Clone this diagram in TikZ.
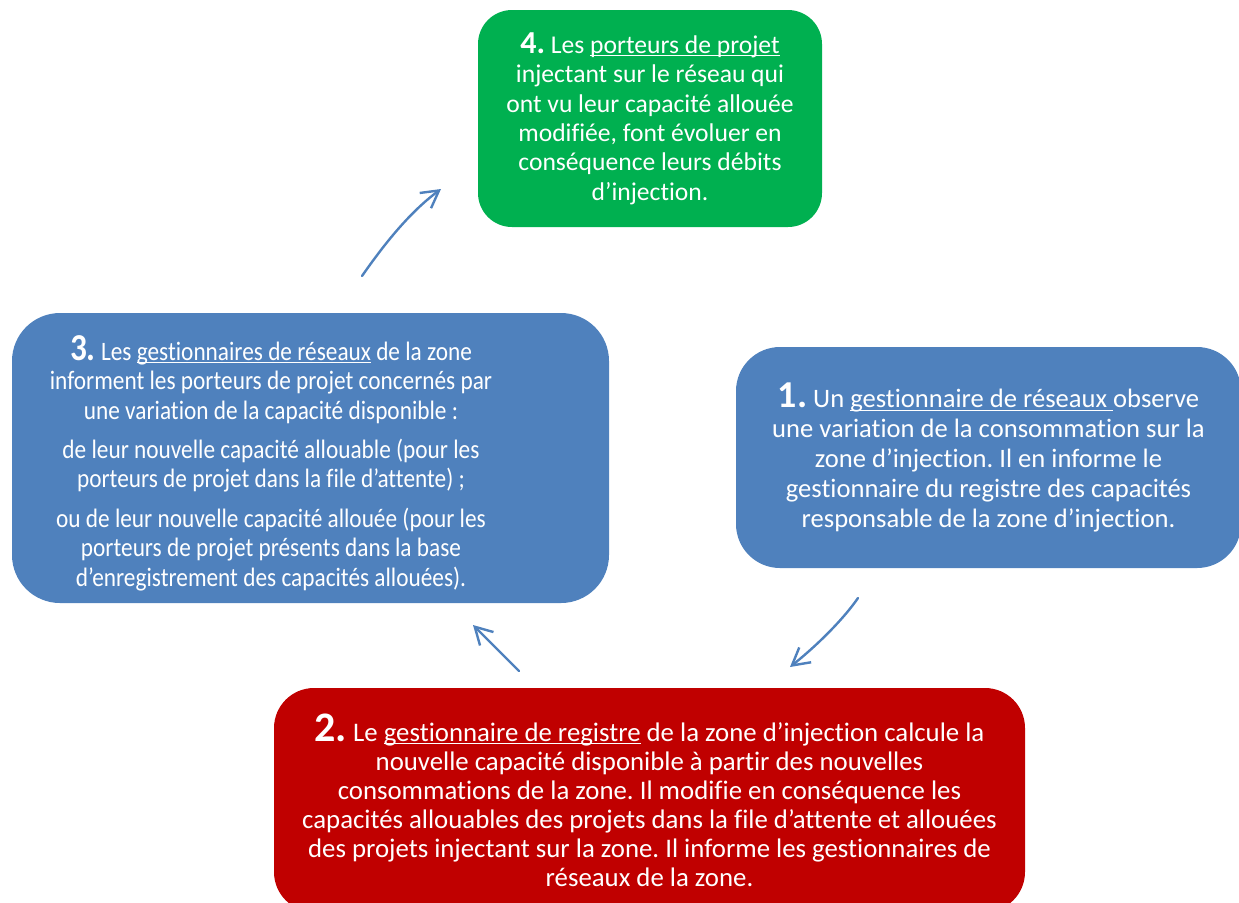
\documentclass[tikz,border=0pt]{standalone}
\usepackage{fontspec}
\setmainfont{Carlito}[Ligatures=CommonOff]
\newfontfamily\narrowfont[FakeStretch=0.876,Ligatures=CommonOff]{Carlito}
\usetikzlibrary{arrows.meta}
\definecolor{bluebox}{HTML}{4F81BD}
\definecolor{redbox}{HTML}{C00000}
\definecolor{greenbox}{HTML}{00B050}
\definecolor{flowline}{HTML}{4F81BD}
\newcommand{\stepnum}[2][16]{{\fontsize{#1}{#1}\selectfont\bfseries #2}}
\newcommand{\ulword}[1]{\setbox0\hbox{#1}\rlap{\rule[-1.6pt]{\wd0}{0.6pt}}\box0\relax}
\frenchspacing
\tikzset{
  card/.style={draw=none, text=white, align=center, inner sep=0pt},
  cardtext/.style={text=white, align=center, inner sep=0pt},
  flow/.style={draw=flowline, line width=1.2pt, line cap=round, line join=round,
    -{Straight Barb[length=8.5pt,width=9.5pt,line width=1.2pt]}},
}

\begin{document}
\begin{tikzpicture}[x=0.5pt,y=-0.5pt]
  \useasboundingbox (0,0) rectangle (1239,902);

  \node[card, fill=greenbox, rounded corners=17pt, minimum width=172pt, minimum height=108.5pt,
    font=\fontsize{12.8}{14.7}\selectfont] (step4) at (650,118.5)
    {\stepnum[16]{4.} Les \ulword{porteurs de projet}\\
     injectant sur le réseau qui\\
     ont vu leur capacité allouée\\
     modifiée, font évoluer en\\
     conséquence leurs débits\\
     d’injection.};

  \node[card, fill=bluebox, rounded corners=24pt, minimum width=298.5pt, minimum height=145pt] (step3) at (310.5,458) {};
  \node[cardtext, font=\narrowfont\fontsize{13.3}{14.7}\selectfont] (txt3) at (271,463)
    {\stepnum[19]{3.} Les \ulword{gestionnaires de réseaux} de la zone\\
     informent les porteurs de projet concernés par\\
     une variation de la capacité disponible :\\[5pt]
     de leur nouvelle capacité allouable (pour les\\
     porteurs de projet dans la file d’attente) ;\\[5pt]
     ou de leur nouvelle capacité allouée (pour les\\
     porteurs de projet présents dans la base\\
     d’enregistrement des capacités allouées).};

  \node[card, fill=bluebox, rounded corners=22pt, minimum width=252.5pt, minimum height=110.5pt,
    font=\fontsize{13.3}{15}\selectfont] (step1) at (988.5,457.5)
    {\stepnum[19]{1.} Un \ulword{gestionnaire de réseaux\ }observe\\
     une variation de la consommation sur la\\
     zone d’injection. Il en informe le\\
     gestionnaire du registre des capacités\\
     responsable de la zone d’injection.};

  \node[card, fill=redbox, rounded corners=20pt, minimum width=375.5pt, minimum height=112pt,
    font=\fontsize{13.4}{14.5}\selectfont] (step2) at (649.5,800)
    {\stepnum[21]{2.} Le \ulword{gestionnaire de registre} de la zone d’injection calcule la\\
     nouvelle capacité disponible à partir des nouvelles\\
     consommations de la zone. Il modifie en conséquence les\\
     capacités allouables des projets dans la file d’attente et allouées\\
     des projets injectant sur la zone. Il informe les gestionnaires de\\
     réseaux de la zone.};

  % arrow ends
  \coordinate (f1a) at (858,598);
  \coordinate (f1b) at (790,667);
  \coordinate (f2a) at (519,671);
  \coordinate (f2b) at (473,625);
  \coordinate (f3a) at (362,276);
  \coordinate (f3b) at (441,189);

  \draw[flow] (f1a) .. controls (845,617) and (820,643) .. (f1b);
  \draw[flow] (f2a) -- (f2b);
  \draw[flow] (f3a) .. controls (385,243) and (410,212) .. (f3b);
\end{tikzpicture}
\end{document}
